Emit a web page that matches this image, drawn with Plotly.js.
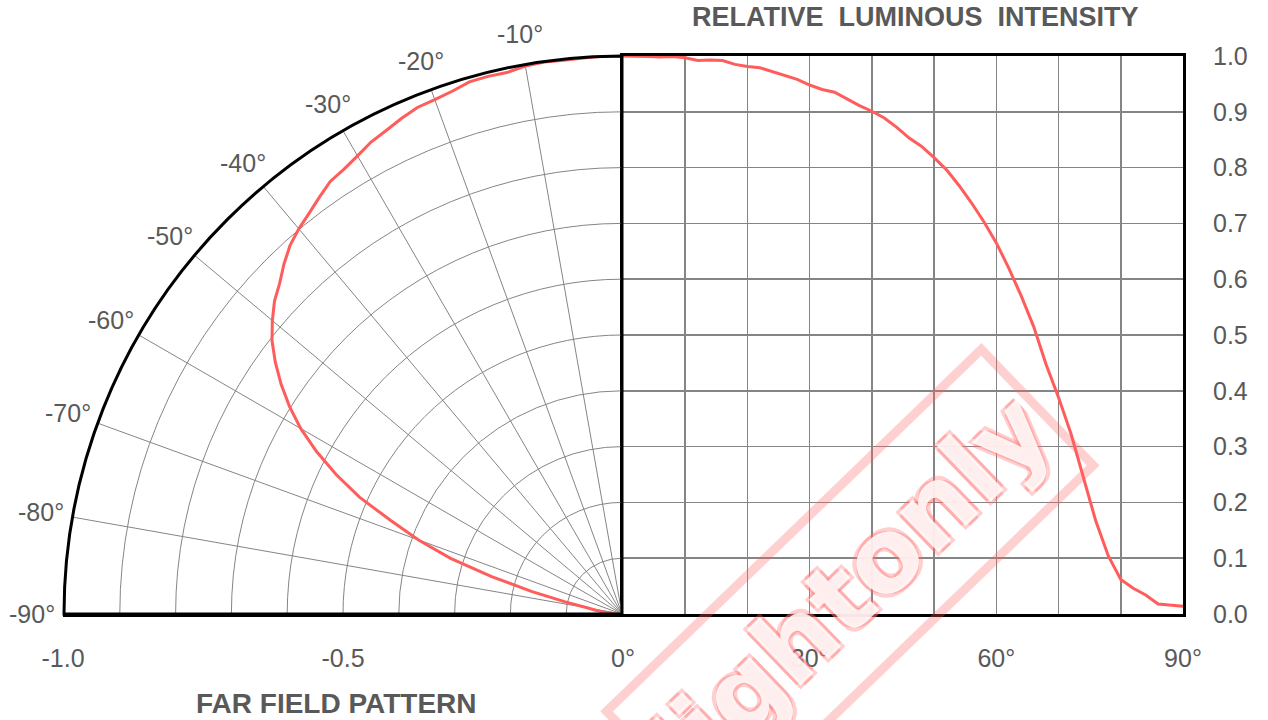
<!DOCTYPE html>
<html>
<head>
<meta charset="utf-8">
<script src="https://cdn.plot.ly/plotly-3.0.1.min.js"></script>
<style>html,body{margin:0;padding:0;background:#fff;}#chart{width:1268px;height:720px;}</style>
</head>
<body>
<div id="chart"></div>
<script>
// Emission angle (degrees) and relative luminous intensity
var angles = [0, 2, 4, 6, 8, 10, 12, 14, 16, 18, 20, 22, 24, 26, 28, 30, 32, 34, 36, 38, 40,
              42, 44, 46, 48, 50, 52, 54, 56, 58, 60, 62, 64, 66, 68, 70, 72, 74, 76, 78, 80,
              82, 84, 86, 88, 90];
var intensity = [1.000, 1.000, 0.999, 0.998, 0.999, 0.997, 0.992, 0.993, 0.992, 0.985, 0.981,
                 0.979, 0.972, 0.964, 0.958, 0.948, 0.940, 0.935, 0.923, 0.911, 0.901,
                 0.889, 0.872, 0.853, 0.838, 0.818, 0.796, 0.768, 0.737, 0.703, 0.665,
                 0.620, 0.570, 0.515, 0.447, 0.388, 0.323, 0.243, 0.166, 0.104, 0.062,
                 0.046, 0.034, 0.018, 0.016, 0.014];

// Tick labels
var polarTickVals = [-10, -20, -30, -40, -50, -60, -70, -80, -90];
var polarTickText = ['-10°', '-20°', '-30°', '-40°', '-50°', '-60°', '-70°', '-80°', '-90°'];
var leftTickVals = [-1, -0.5];
var leftTickText = ['-1.0', '-0.5'];
var rightTickVals = [0, 10, 20, 30, 40, 50, 60, 70, 80, 90];
var rightTickText = ['0°', '', '', '30°', '', '', '60°', '', '', '90°'];
var intensityTickVals = [0, 0.1, 0.2, 0.3, 0.4, 0.5, 0.6, 0.7, 0.8, 0.9, 1.0];

var titleTop = 'RELATIVE  LUMINOUS  INTENSITY';
var titleBottom = 'FAR FIELD PATTERN';
var watermark = 'lightonly';

var curveColor = '#ff5c5c';
var textColor = '#595959';
var gridColor = '#858585';
var fontFamily = 'Liberation Sans, Arial, sans-serif';
var labelRadius = 1.055;

var traces = [
  {
    type: 'scatterpolar',
    r: intensity,
    theta: angles.map(function (a) { return -a; }),
    mode: 'lines',
    line: {color: curveColor, width: 3},
    hoverinfo: 'skip',
    subplot: 'polar',
    showlegend: false
  },
  {
    type: 'scatter',
    x: angles,
    y: intensity,
    mode: 'lines',
    line: {color: curveColor, width: 3},
    xaxis: 'x2',
    yaxis: 'y2',
    hoverinfo: 'skip',
    showlegend: false
  },
  {
    type: 'scatter',
    x: [],
    y: [],
    xaxis: 'x',
    yaxis: 'y',
    showlegend: false
  }
];

var tickFont = {family: fontFamily, size: 25, color: textColor};

// angular labels of the far-field quarter circle, centred just outside the outer arc
// (the quarter circle fills the left half of the plot area: x paper 0..0.5, y paper 0..1)
var angleLabels = polarTickVals.map(function (v, i) {
  var t = Math.abs(v) * Math.PI / 180;
  return {
    text: polarTickText[i],
    xref: 'paper', yref: 'paper',
    x: 0.5 * (1 - labelRadius * Math.sin(t)),
    y: labelRadius * Math.cos(t),
    xanchor: 'center', yanchor: 'middle',
    showarrow: false,
    font: tickFont
  };
});

var layout = {
  width: 1268,
  height: 720,
  paper_bgcolor: '#ffffff',
  plot_bgcolor: 'rgba(0,0,0,0)',
  margin: {l: 63, r: 85, t: 56, b: 106, pad: 0},
  showlegend: false,
  xaxis: {
    domain: [0, 0.5],
    range: [-1, 0],
    tickmode: 'array',
    tickvals: leftTickVals,
    ticktext: leftTickText,
    showgrid: false,
    zeroline: false,
    showline: true,
    linecolor: '#000000',
    linewidth: 3,
    ticks: 'outside',
    ticklen: 20,
    tickcolor: 'rgba(0,0,0,0)',
    tickfont: tickFont,
    anchor: 'y',
    fixedrange: true
  },
  yaxis: {
    domain: [0, 1],
    range: [0, 1],
    visible: false,
    anchor: 'x',
    fixedrange: true
  },
  xaxis2: {
    domain: [0.5, 1],
    range: [0, 90],
    tickmode: 'array',
    tickvals: rightTickVals,
    ticktext: rightTickText,
    showgrid: true,
    gridcolor: gridColor,
    gridwidth: 1.5,
    zeroline: false,
    showline: true,
    mirror: true,
    linecolor: '#000000',
    linewidth: 3,
    ticks: 'outside',
    ticklen: 20,
    tickcolor: 'rgba(0,0,0,0)',
    tickfont: tickFont,
    anchor: 'y2',
    fixedrange: true
  },
  yaxis2: {
    domain: [0, 1],
    range: [0, 1],
    side: 'right',
    tickmode: 'array',
    tickvals: intensityTickVals,
    tickformat: '.1f',
    showgrid: true,
    gridcolor: gridColor,
    gridwidth: 1.5,
    zeroline: false,
    showline: true,
    mirror: true,
    linecolor: '#000000',
    linewidth: 3,
    ticks: 'outside',
    ticklen: 22,
    tickcolor: 'rgba(0,0,0,0)',
    tickfont: tickFont,
    anchor: 'x2',
    fixedrange: true
  },
  polar: {
    domain: {x: [0, 0.5], y: [0, 1]},
    sector: [90, 180],
    bgcolor: 'rgba(0,0,0,0)',
    angularaxis: {
      rotation: 90,
      direction: 'clockwise',
      tickmode: 'array',
      tickvals: polarTickVals,
      ticktext: polarTickText,
      showticklabels: false,
      showgrid: true,
      gridcolor: gridColor,
      gridwidth: 1,
      showline: true,
      linecolor: '#000000',
      linewidth: 3,
      ticks: ''
    },
    radialaxis: {
      range: [0, 1],
      tickmode: 'array',
      tickvals: [0.1, 0.2, 0.3, 0.4, 0.5, 0.6, 0.7, 0.8, 0.9, 1.0],
      showticklabels: false,
      ticks: '',
      showline: false,
      showgrid: true,
      gridcolor: gridColor,
      gridwidth: 1
    }
  },
  annotations: angleLabels.concat([
    {
      text: '<b>' + titleTop + '</b>',
      xref: 'paper', yref: 'paper',
      x: 0.7616, y: 1, yshift: 39,
      xanchor: 'center', yanchor: 'middle',
      showarrow: false,
      font: {family: fontFamily, size: 27, color: textColor}
    },
    {
      text: '<b>' + titleBottom + '</b>',
      xref: 'paper', yref: 'paper',
      x: 0.2446, y: 0, yshift: -89,
      xanchor: 'center', yanchor: 'middle',
      showarrow: false,
      font: {family: fontFamily, size: 28, color: textColor}
    },
    {
      text: '<b>' + watermark + '</b>',
      xref: 'paper', yref: 'paper',
      x: 0.703, y: 0.046,
      xanchor: 'center', yanchor: 'middle',
      showarrow: false,
      textangle: -44,
      width: 500,
      height: 140,
      borderpad: 6,
      bordercolor: 'rgba(255,100,100,0.3)',
      borderwidth: 9,
      font: {
        family: 'DejaVu Sans, sans-serif', size: 102,
        color: 'rgba(255,255,255,0.85)',
        shadow: '3px 3px 0 rgba(255,110,110,0.4), -3px -3px 0 rgba(255,110,110,0.4), 3px -3px 0 rgba(255,110,110,0.4), -3px 3px 0 rgba(255,110,110,0.4)'
      }
    }
  ])
};

Plotly.newPlot('chart', traces, layout, {displayModeBar: false, staticPlot: true});
</script>
</body>
</html>
